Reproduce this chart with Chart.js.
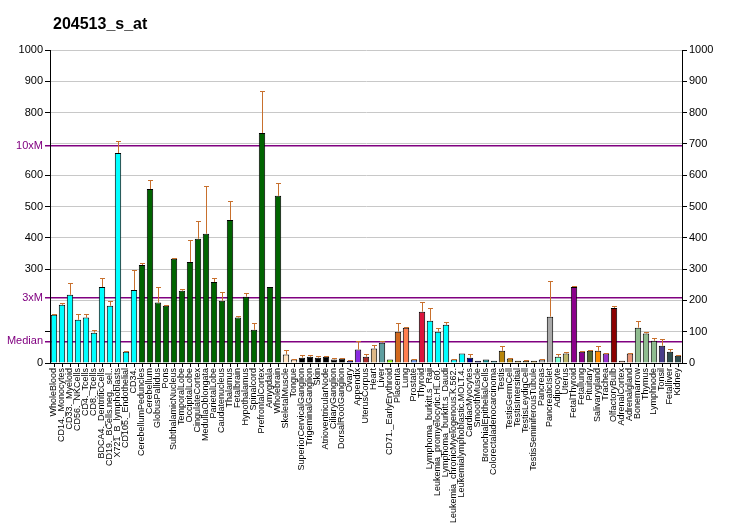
<!DOCTYPE html>
<html>
<head>
<meta charset="utf-8">
<script src="https://cdn.jsdelivr.net/npm/chart.js@4.4.1/dist/chart.umd.min.js"></script>
<style>
  body { margin: 0; background: #fff; }
  #wrap { width: 732px; height: 530px; }
</style>
</head>
<body>
<div id="wrap"><canvas id="exprChart" width="732" height="530"></canvas></div>
<script>
// probe set expression across tissues
const title = '204513_s_at';

const tissues = [
  'WholeBlood', 'CD14._Monocytes', 'CD33._Myeloid', 'CD56._NKCells', 'CD4._Tcells', 'CD8._Tcells',
  'BDCA4._DentriticCells', 'CD19._BCells.neg._sel..', 'X721_B_lymphoblasts', 'CD105._Endothelial', 'CD34.',
  'CerebellumPeduncles', 'Cerebellum', 'GlobusPallidus', 'Pons', 'SubthalamicNucleus', 'TemporalLobe',
  'OccipitalLobe', 'CingulateCortex', 'MedullaOblongata', 'ParietalLobe', 'Caudatenucleus', 'Thalamus',
  'Fetalbrain', 'Hypothalamus', 'Spinalcord', 'PrefrontalCortex', 'Amygdala', 'Wholebrain',
  'SkeletalMuscle', 'Tongue', 'SuperiorCervicalGanglion', 'TrigeminalGanglion', 'Skin',
  'AtrioventricularNode', 'CiliaryGanglion', 'DorsalRootGanglion', 'Ovary', 'Appendix', 'UterusCorpus',
  'Heart', 'Liver', 'CD71._EarlyErythroid', 'Placenta', 'Lung', 'Prostate', 'Thyroid',
  'Lymphoma_burkitt.s_Raji', 'Leukemia_promyelocytic.HL.60.', 'Lymphoma_burkitt.s_Daudi',
  'Leukemia_chronicMyelogenous.K.562.', 'Leukemialymphoblastic.MOLT.4.', 'CardiacMyocytes',
  'SmoothMuscle', 'BronchialEpithelialCells', 'Colorectaladenocarcinoma', 'Testis', 'TestisGermCell',
  'TestisIntersitial', 'TestisLeydigCell', 'TestisSeminiferousTubule', 'Pancreas', 'PancreaticIslet',
  'Adipocyte', 'Uterus', 'FetalThyroid', 'Fetallung', 'Pituitary', 'Salivarygland', 'Trachea',
  'OlfactoryBulb', 'AdrenalCortex', 'Adrenalgland', 'Bonemarrow', 'Thymus', 'Lymphnode', 'Tonsil',
  'Fetalliver', 'Kidney'
];

const values = [
  154, 186, 218, 138, 145, 97, 243, 183, 671, 36, 233,
  313, 556, 193, 183, 333, 231, 323, 397, 413, 259, 199, 457, 145, 212, 106, 735, 243, 534,
  27, 11, 17, 20, 17, 20, 11, 14, 7, 43, 20, 46, 65, 11, 100, 113, 11, 164,
  135, 100, 122, 11, 30, 17, 7, 11, 7,
  39, 14, 7, 7, 7, 11, 148, 20, 30, 243, 36, 39, 39, 30, 176, 7, 30, 113, 94, 71, 55, 36, 23
];

const errors = [
  3, 6, 37, 19, 12, 9, 29, 16, 39, 1, 64,
  5, 28, 50, 3, 3, 6, 70, 57, 153, 13, 29, 61, 6, 13, 23, 133, 0, 41,
  16, 3, 10, 7, 6, 3, 6, 3, 4, 28, 10, 13, 6, 0, 29, 3, 3, 32,
  42, 13, 10, 3, 0, 13, 0, 0, 0,
  16, 3, 0, 4, 0, 3, 114, 10, 6, 3, 3, 4, 16, 3, 7, 0, 3, 22, 6, 9, 22, 10, 4
];

const barColors = [].concat(
  Array(11).fill('#00FFFF'),
  Array(18).fill('#006400'),
  ['#FFE4C4', '#FFE4C4'],
  Array(6).fill('#000000'),
  ['#0000CD', '#8A2BE2', '#A52A2A', '#DEB887', '#5F9EA0', '#7FFF00', '#D2691E', '#FF7F50', '#6495ED', '#DC143C'],
  Array(5).fill('#00FFFF'),
  ['#00008B', '#00008B', '#008B8B', '#008B8B'],
  Array(5).fill('#B8860B'),
  ['#A9A9A9', '#A9A9A9', '#7FFFD4', '#BDB76B', '#8B008B', '#8B008B', '#556B2F', '#FF8C00', '#9932CC',
   '#8B0000', '#E9967A', '#E9967A', '#8FBC8F', '#8FBC8F', '#8FBC8F', '#483D8B', '#2F4F4F', '#2F4F4F']
);

const median = 69.3;
const marks = { median: median, x3: median * 3, x10: median * 10 };
const yTicks = [0, 100, 200, 300, 400, 500, 600, 700, 800, 900, 1000];
const leftTicks = yTicks.concat([marks.median, marks.x3, marks.x10]).sort((a, b) => a - b);

const PURPLE = '#800080';
const ERR = '#C8702D';

function isMark(v) {
  return Math.abs(v - marks.median) < 0.01 || Math.abs(v - marks.x3) < 0.01 || Math.abs(v - marks.x10) < 0.01;
}

function leftLabel(v) {
  if (Math.abs(v - marks.median) < 0.01) return 'Median';
  if (Math.abs(v - marks.x3) < 0.01) return '3xM';
  if (Math.abs(v - marks.x10) < 0.01) return '10xM';
  if (v === 100 || v === 200 || v === 700) return '';
  return String(v);
}

const errorBars = {
  id: 'errorBars',
  afterDatasetsDraw(chart) {
    const ctx = chart.ctx;
    const yScale = chart.scales.y;
    const meta = chart.getDatasetMeta(0);
    ctx.save();
    ctx.strokeStyle = ERR;
    ctx.lineWidth = 1;
    meta.data.forEach((bar, i) => {
      if (!errors[i]) return;
      const x = Math.round(bar.x) + 0.5;
      const top = Math.round(yScale.getPixelForValue(values[i] + errors[i])) + 0.5;
      ctx.beginPath();
      ctx.moveTo(x, bar.y);
      ctx.lineTo(x, top);
      ctx.moveTo(x - 2.5, top);
      ctx.lineTo(x + 2.5, top);
      ctx.stroke();
    });
    ctx.restore();
  }
};

const titlePlugin = {
  id: 'titleText',
  afterDraw(chart) {
    const ctx = chart.ctx;
    ctx.save();
    ctx.fillStyle = '#000';
    ctx.font = 'bold 16px "Liberation Sans", Arial, sans-serif';
    ctx.textBaseline = 'alphabetic';
    ctx.fillText(title, 53, 29);
    ctx.restore();
  }
};

const ctx = document.getElementById('exprChart').getContext('2d');
const exprChart = new Chart(ctx, {
  type: 'bar',
  data: {
    labels: tissues,
    datasets: [{
      data: values,
      backgroundColor: barColors,
      borderColor: '#000000',
      borderWidth: 1,
      barPercentage: 0.8,
      categoryPercentage: 1.0
    }]
  },
  options: {
    responsive: false,
    animation: false,
    layout: { padding: { top: 50, left: 0, right: 0, bottom: 0 } },
    plugins: {
      legend: { display: false },
      tooltip: { enabled: false },
      title: { display: false }
    },
    scales: {
      x: {
        afterFit: s => { s.height = 167; },
        grid: { display: true, drawOnChartArea: false, offset: false, tickLength: 4, color: '#000' },
        border: { color: '#000', width: 1 },
        ticks: {
          autoSkip: false, minRotation: 90, maxRotation: 90, padding: 1, color: '#000',
          font: { family: '"Liberation Sans", Arial, sans-serif', size: 9 }
        }
      },
      y: {
        position: 'left',
        min: 0, max: 1000,
        afterFit: s => { s.width = 50; },
        afterBuildTicks: s => { s.ticks = leftTicks.map(v => ({ value: v })); },
        grid: {
          color: c => c.tick && isMark(c.tick.value) ? PURPLE : (c.tick && c.tick.value === 0 ? 'rgba(0,0,0,0)' : '#C8C8C8'),
          lineWidth: c => c.tick && isMark(c.tick.value) ? 1.5 : 1,
          tickColor: c => c.tick && (c.tick.value === 200 || c.tick.value === 700) ? 'rgba(0,0,0,0)' : (c.tick && isMark(c.tick.value) ? PURPLE : '#000'),
          tickLength: 5
        },
        border: { color: '#000', width: 1 },
        ticks: {
          autoSkip: false, padding: 2,
          callback: v => leftLabel(v),
          color: c => c.tick && isMark(c.tick.value) ? PURPLE : '#000',
          font: { family: '"Liberation Sans", Arial, sans-serif', size: 11 }
        }
      },
      y2: {
        position: 'right',
        min: 0, max: 1000,
        afterFit: s => { s.width = 50; },
        grid: { drawOnChartArea: false, tickLength: 5, tickColor: '#000' },
        border: { color: '#000', width: 1 },
        ticks: {
          stepSize: 100, autoSkip: false, padding: 2, color: '#000',
          callback: v => String(v),
          font: { family: '"Liberation Sans", Arial, sans-serif', size: 11 }
        }
      }
    }
  },
  plugins: [errorBars, titlePlugin]
});
</script>
</body>
</html>
